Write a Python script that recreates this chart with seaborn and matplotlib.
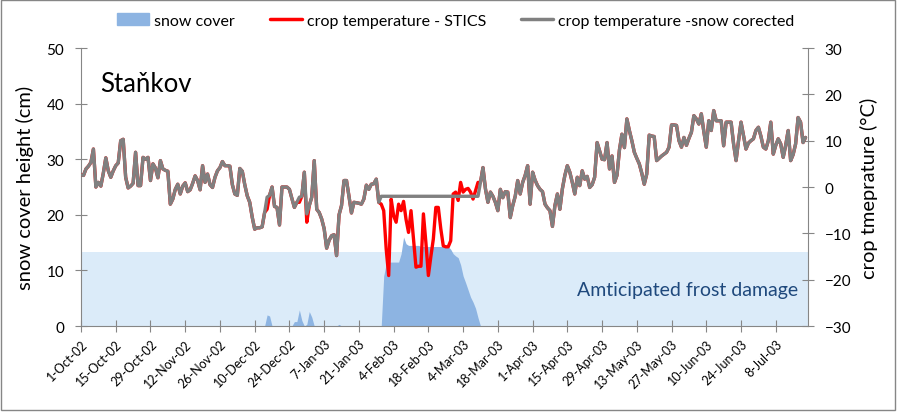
import numpy as np
import pandas as pd
import matplotlib
matplotlib.use('Agg')
import matplotlib.pyplot as plt
from matplotlib.patches import Patch, Rectangle
from matplotlib.lines import Line2D
import seaborn as sns

sns.set_style('white')
plt.rcParams['font.family'] = ['Lato', 'DejaVu Sans']
plt.rcParams['text.color'] = 'black'
plt.rcParams['axes.labelcolor'] = 'black'
plt.rcParams['xtick.color'] = 'black'
plt.rcParams['ytick.color'] = 'black'

# ---- data ----
start_date = '2002-10-01'

# crop temperature - STICS (°C), daily from 1-Oct-02
temp_stics = [
    2.6, 2.5, 3.9, 4.5, 5.3, 8.2, 0.0, 1.0, 0.2, 3.0,            # d0
    6.3, 3.5, 2.1, 3.5, 4.6, 5.2, 10.0, 10.3, 2.1, -0.2,         # d10
    0.2, 0.8, 7.5, 0.3, 0.3, 6.4, 6.0, 6.4, 1.4, 5.0,            # d20
    4.1, 2.0, 5.7, 3.9, 3.6, 3.4, -3.7, -2.6, -0.5, 0.6,         # d30
    -1.5, 0.2, 0.9, -1.0, -0.6, 0.8, 2.4, 1.4, -0.6, 4.6,        # d40
    1.0, 2.8, 0.5, -0.1, 2.1, 3.5, 4.2, 5.5, 4.6, 4.6,           # d50
    4.5, 0.5, -1.5, -1.8, 4.0, 3.4, 0.5, -1.9, -3.3, -6.5,       # d60
    -9.1, -8.8, -8.8, -8.6, -5.5, -4.8, -1.8, 0.0, -4.2, -4.4,   # d70
    -8.2, 0.0, 0.0, 0.0, -0.5, -2.5, -4.4, -3.3, -3.3, -2.0,     # d80
    3.2, -7.6, -4.0, -2.2, 5.7, -4.8, -5.5, -6.9, -9.0, -13.2,   # d90
    -11.5, -10.5, -10.3, -14.8, -6.0, -4.0, 1.4, 1.4, -2.0, -5.6,  # d100
    -3.3, -3.4, -3.5, -3.7, -2.6, 0.4, -0.5, 0.6, 0.7, 1.7,      # d110
    -3.3, -3.7, -5.1, -13.4, -19.1, -2.6, -6.2, -7.6, -3.7, -5.1,  # d120
    -3.1, -7.0, -9.8, -5.1, -11.2, -17.3, -17.1, -17.1, -5.8, -12.0,  # d130
    -19.1, -15.0, -11.2, -4.4, -4.4, -9.0, -12.7, -12.9, -12.9, -11.6,  # d140
    -1.5, -1.1, -2.9, 1.0, -1.1, -0.5, -0.3, -1.1, -2.6, -0.8,   # d150
    1.0, 1.0, 4.2, -0.4, -3.3, -1.1, -2.0, -3.3, -5.1, -0.5,     # d160
    -2.3, -1.0, -1.1, -6.6, -4.0, -2.0, 1.4, -1.5, 1.0, 2.5,     # d170
    4.6, -3.7, 3.2, 1.5, 0.3, -0.5, -1.0, -3.7, -4.5, -5.1,      # d180
    -8.5, -4.0, -1.5, -4.8, -0.4, 2.5, 4.6, 3.2, 1.0, -1.5,      # d190
    2.1, 0.3, 3.5, 1.7, 2.3, -0.1, 0.5, 2.1, 9.6, 7.8,           # d200
    6.0, 5.9, 9.6, 3.9, 6.7, 1.0, 2.5, 8.0, 11.4, 8.5,           # d210
    14.7, 12.2, 10.0, 7.5, 6.2, 5.0, 3.0, 0.6, 2.8, 11.2,        # d220
    11.0, 10.9, 5.7, 6.2, 6.7, 7.1, 7.5, 8.6, 13.4, 13.4,        # d230
    13.3, 10.0, 8.6, 10.7, 9.0, 10.5, 11.8, 15.4, 14.7, 13.6,    # d240
    15.8, 12.0, 8.6, 14.3, 12.2, 16.5, 14.3, 14.3, 14.3, 8.9,    # d250
    14.0, 14.0, 14.0, 9.3, 5.7, 10.0, 14.0, 11.1, 8.2, 9.5,      # d260
    10.0, 10.4, 12.2, 12.9, 11.0, 8.6, 8.2, 10.0, 14.0, 7.1,     # d270
    9.0, 10.4, 9.3, 6.4, 9.0, 12.2, 5.7, 7.0, 9.3, 15.0,         # d280
    14.0, 9.6, 10.7,                                             # d290
]

# snow-corrected temperature differs from STICS only on these days
corr_days = [75, 88, 91] + list(range(121, 161))
corr_temp = [-2.2, -2.2, -5.8] + [-2.0] * 40

# snow cover height (cm), days with snow
snow_days = [75, 76, 86, 87, 88, 89, 91, 92, 93, 104,
             122, 123, 124, 125, 126, 127, 128, 129, 130, 131,
             132, 133, 134, 135, 136, 137, 138, 139, 140, 141,
             142, 143, 144, 145, 146, 147, 148, 149, 150, 151,
             152, 153, 154, 155, 156, 157, 158, 159, 160]
snow_cm = [2.0, 1.8, 0.8, 0.8, 2.9, 1.0, 0.3, 2.6, 1.6, 0.3,
           9.0, 11.2, 11.5, 11.5, 11.5, 11.5, 11.5, 13.0, 16.0, 14.8,
           14.5, 14.5, 14.5, 14.5, 14.5, 14.3, 14.3, 14.3, 14.3, 14.3,
           14.3, 14.3, 14.3, 14.3, 14.3, 14.3, 14.3, 13.8, 13.0, 12.6,
           12.3, 11.0, 9.0, 7.8, 6.5, 5.2, 4.3, 3.2, 1.5]

frost_limit = -14  # °C, top of "anticipated frost damage" band

# ---- build table ----
dates = pd.date_range(start_date, periods=len(temp_stics), freq='D')
temp_corr = np.array(temp_stics, dtype=float)
temp_corr[corr_days] = corr_temp
snow = np.zeros(len(temp_stics))
snow[snow_days] = snow_cm
df = pd.DataFrame({'date': dates, 'snow': snow,
                   'stics': temp_stics, 'corr': temp_corr})

# ---- figure ----
fig = plt.figure(figsize=(8.97, 4.14), dpi=100)
ax = fig.add_axes([0.0903, 0.2101, 0.8105, 0.6715])
ax2 = ax.twinx()

ax.set_ylim(0, 50)
ax2.set_ylim(-30, 30)
band_top = (frost_limit + 30) / 60 * 50
ax.axhspan(0, band_top, color='#dbebf9', lw=0, zorder=0)
ax.fill_between(df['date'], 0, df['snow'], color='#8db4e2', lw=0, zorder=1)

sns.lineplot(data=df, x='date', y='stics', ax=ax2, color='#ff0000', lw=2.4)
sns.lineplot(data=df, x='date', y='corr', ax=ax2, color='#808080', lw=2.4)

ax.set_xlim(dates[0], dates[0] + pd.Timedelta(days=293))
ticks = pd.date_range(start_date, dates[-1], freq='14D')
ax.set_xticks(ticks)
ax.set_xticklabels([f"{d.day}-{d.strftime('%b-%y')}" for d in ticks],
                   rotation=45, ha='right', rotation_mode='anchor', fontsize=9)
ax.set_yticks(np.arange(0, 51, 10))
ax2.set_yticks(np.arange(-30, 31, 10))

axis_col = '#868686'
for a in (ax, ax2):
    a.spines['top'].set_visible(False)
ax.spines['right'].set_visible(False)
ax2.spines['left'].set_visible(False)
ax2.spines['bottom'].set_visible(False)
ax.spines['left'].set_color(axis_col)
ax.spines['bottom'].set_color(axis_col)
ax2.spines['right'].set_color(axis_col)

ax.tick_params(axis='y', direction='inout', length=8, color=axis_col, labelsize=11, pad=8, left=True)
ax.tick_params(axis='x', direction='inout', length=8, color=axis_col, pad=4, bottom=True)
ax2.tick_params(axis='y', direction='inout', length=8, color=axis_col, labelsize=11, pad=8, right=True)

ax.set_xlabel('')
ax.set_ylabel('snow cover height (cm)', fontsize=14.5, labelpad=9)
ax2.set_xlabel('')
ax2.set_ylabel('crop tmeprature (°C)', fontsize=14.5, labelpad=6)

ax.text(0.027, 0.874, 'Staňkov', transform=ax.transAxes, fontsize=18.5,
        va='center', ha='left')
ax.text(0.986, 0.133, 'Amticipated frost damage', transform=ax.transAxes,
        fontsize=14, va='center', ha='right', color='#1f497d')

handles = [Patch(color='#8db4e2'),
           Line2D([], [], color='#ff0000', lw=2.5),
           Line2D([], [], color='#808080', lw=2.5)]
labels = ['snow cover', 'crop temperature - STICS', 'crop temperature -snow corected']
fig.legend(handles, labels, loc='upper center', bbox_to_anchor=(0.508, 1.0),
           ncol=3, frameon=False, fontsize=11.5, handlelength=2.0,
           columnspacing=2.2, handletextpad=0.3)

fig.patches.append(Rectangle((1 / 897, 3 / 414), 894 / 897, 410 / 414,
                             transform=fig.transFigure, fill=False,
                             edgecolor=axis_col, lw=1))

fig.savefig('out.png', dpi=100)
